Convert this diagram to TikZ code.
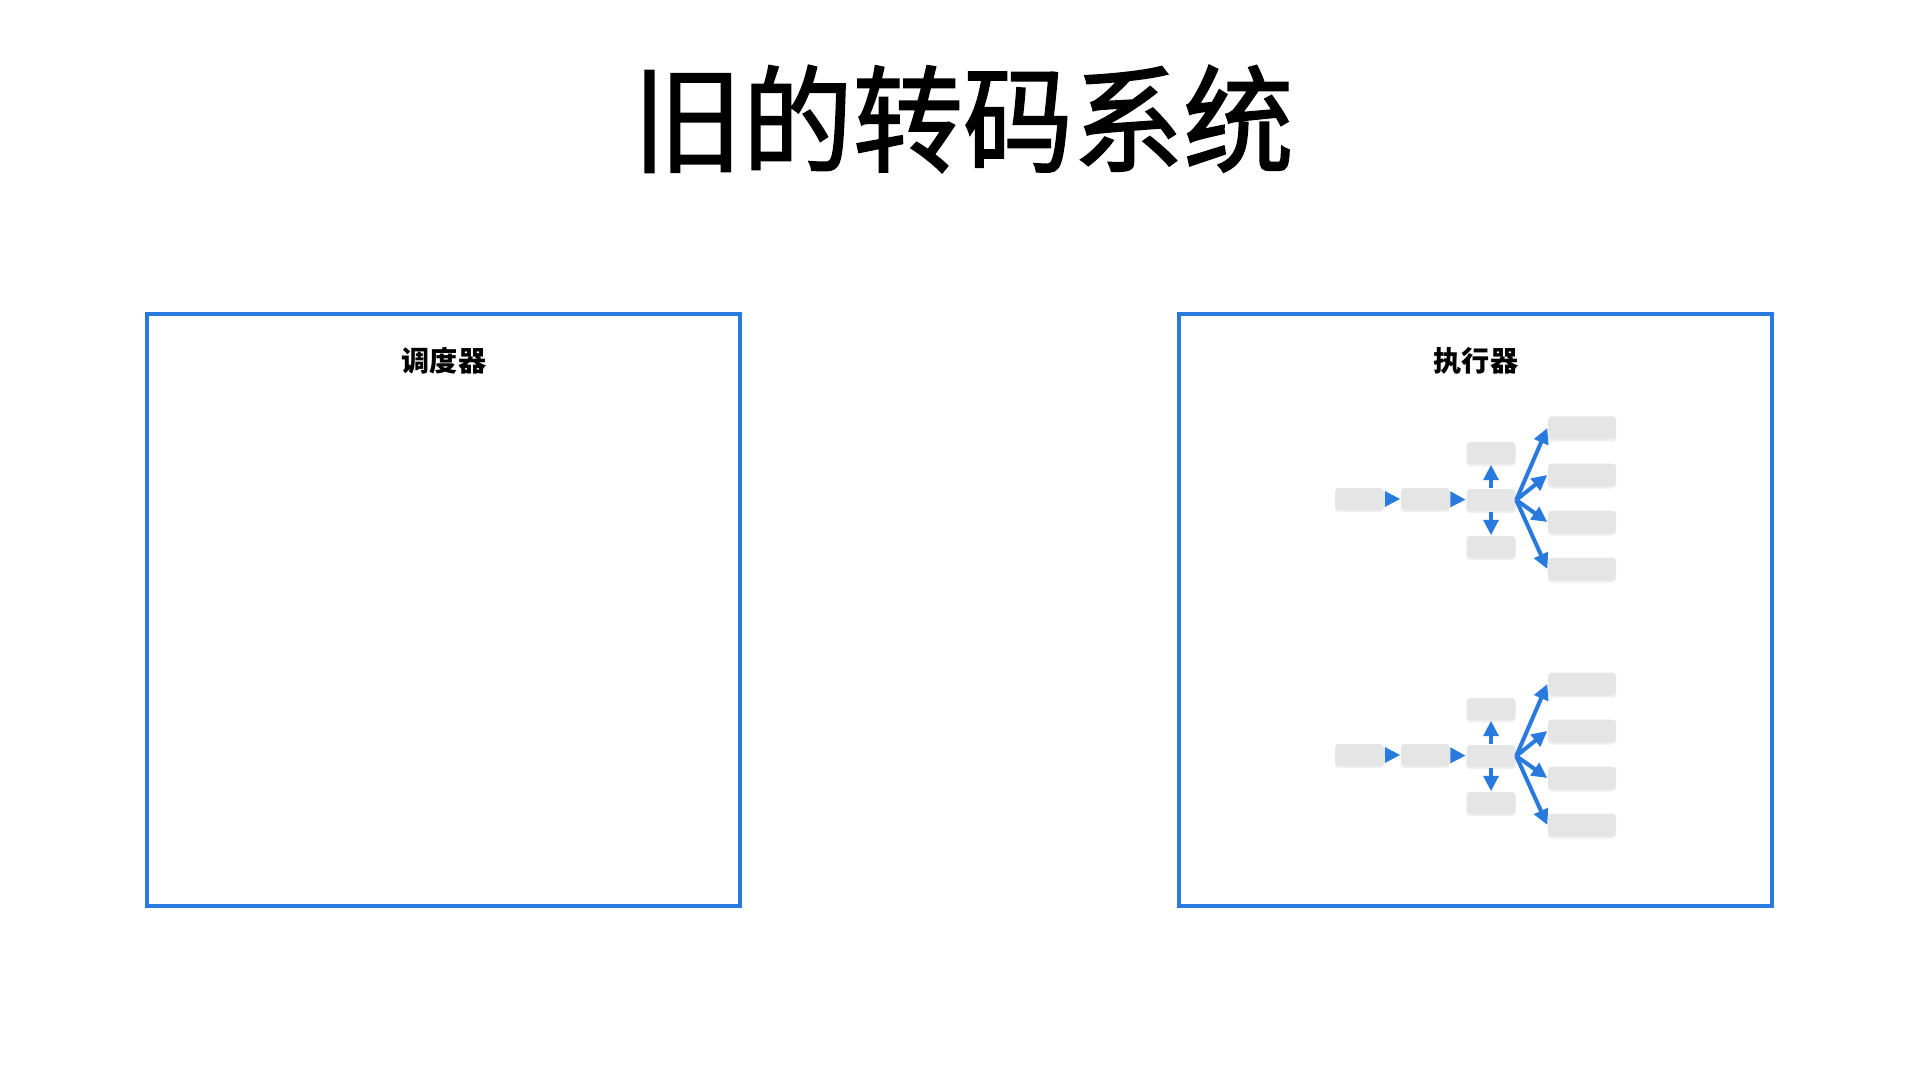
\documentclass[tikz,border=0pt]{standalone}
\usepackage{fontspec}
\setmainfont{Noto Sans CJK SC}
\newfontfamily\titlefont[FakeBold=1.6]{Noto Sans CJK SC}
\usetikzlibrary{arrows.meta, positioning, shadows}

\definecolor{frameblue}{RGB}{40,122,222}
\definecolor{taskgray}{RGB}{229,229,229}

\begin{document}
\begin{tikzpicture}[>={Triangle[length=4.4pt, width=4.2pt]}, font=\bfseries,
  panel/.style={draw=frameblue, line width=1.15pt},
  task/.style={fill=taskgray, rounded corners=1pt, inner sep=0pt,
    minimum width=0.49cm, minimum height=0.22cm,
    drop shadow={opacity=0.12, shadow xshift=0pt, shadow yshift=-0.6pt}},
  wide/.style={task, minimum width=0.68cm, minimum height=0.23cm},
  flow/.style={->, draw=frameblue, line width=1.15pt}]
  \useasboundingbox (0,0) rectangle (19.2,-10.8);

  \node[font=\titlefont] (title) at (9.63,-1.19) {\fontsize{33}{33}\selectfont\scalebox{0.95}[1]{旧的转码系统}};

  % scheduler
  \draw[panel] (1.47,-3.14) rectangle (7.40,-9.06);
  \node[font=\fontsize{8}{8}\selectfont\bfseries] (sched) at (4.44,-3.61) {调度器};

  % executor
  \draw[panel] (11.79,-3.14) rectangle (17.72,-9.06);
  \node[font=\fontsize{8}{8}\selectfont\bfseries] (exec) at (14.76,-3.61) {执行器};

  \foreach \row/\dy in {1/0, 2/-2.56} {
    \begin{scope}[shift={(0,\dy)}]
      \node[task] (a\row) at (13.595,-4.99) {};
      \node[task] (b\row) at (14.255,-4.99) {};
      \node[task] (c\row) at (14.91,-5.00) {};
      \node[task] (up\row) at (14.91,-4.53) {};
      \node[task] (dn\row) at (14.91,-5.47) {};
      \foreach \k/\y in {1/-4.28, 2/-4.75, 3/-5.22, 4/-5.69}
        \node[wide] (r\row\k) at (15.82,\y) {};
      \draw[flow] (a\row) -- (b\row);
      \draw[flow] (b\row) -- (c\row);
      \draw[flow] (c\row) -- (up\row);
      \draw[flow] (c\row) -- (dn\row);
      \foreach \k in {1,...,4}
        \draw[flow] (c\row.east) -- (r\row\k.west);
    \end{scope}
  }
\end{tikzpicture}
\end{document}
